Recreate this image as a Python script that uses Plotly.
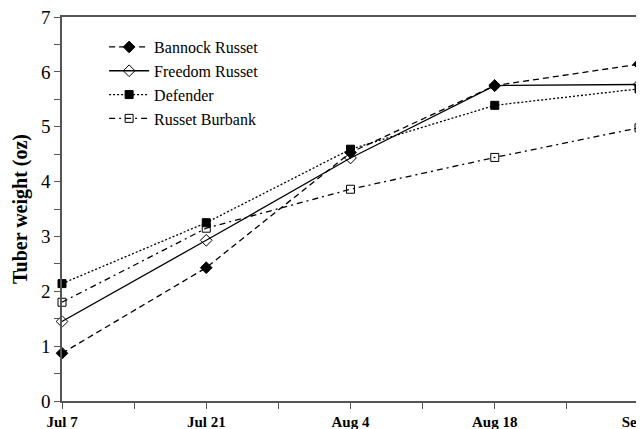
import plotly.graph_objects as go

dates = ["Jul 7", "Jul 21", "Aug 4", "Aug 18", "Sep 1"]
days = [0, 14, 28, 42, 56]

bannock = [0.87, 2.43, 4.53, 5.75, 6.14]
freedom = [1.45, 2.93, 4.43, 5.75, 5.77]
defender = [2.14, 3.25, 4.59, 5.39, 5.69]
burbank = [1.80, 3.15, 3.86, 4.44, 4.98]

series = [
    ("Bannock Russet", bannock, "6px,4px", "diamond", 9),
    ("Freedom Russet", freedom, "solid", "diamond-open", 9),
    ("Defender", defender, "2px,2px", "square", 8),
    ("Russet Burbank", burbank, "6px,4px,2px,4px", "square-open", 8),
]

fig = go.Figure()
for name, vals, dash, sym, sz in series:
    fig.add_trace(go.Scatter(
        x=days, y=vals, name=name, mode="lines+markers",
        line=dict(color="black", width=1.3, dash=dash),
        marker=dict(symbol=sym, size=sz, color="black",
                    line=dict(color="black", width=1)),
        cliponaxis=False,
    ))

font = "Liberation Serif, Times New Roman, serif"
fig.update_layout(
    width=644, height=429,
    margin=dict(l=54, r=13, t=9, b=36),
    paper_bgcolor="white", plot_bgcolor="white",
    font=dict(family=font, color="black", size=16),
    showlegend=True,
    legend=dict(x=0.073, y=0.966, xanchor="left", yanchor="top",
                bgcolor="rgba(0,0,0,0)", font=dict(size=16, family=font),
                tracegroupgap=0, itemwidth=40),
    xaxis=dict(
        range=[0, 56], tickvals=days, ticktext=dates,
        showgrid=False, zeroline=False, automargin=False,
        ticklabeloverflow="allow",
        showline=True, linecolor="#555", linewidth=1.5, mirror=True,
        ticks="outside", ticklen=6, tickcolor="#555",
        tickfont=dict(family=font, size=15, color="black", weight="bold"),
        minor=dict(tickvals=[7, 21, 35, 49], ticks="outside", ticklen=6, tickcolor="#555"),
    ),
    yaxis=dict(
        range=[0, 7], dtick=1, showgrid=False, zeroline=False, automargin=False,
        ticklabeloverflow="allow",
        showline=True, linecolor="#555", linewidth=1.5, mirror=True,
        ticks="outside", ticklen=6, tickcolor="#555",
        tickfont=dict(family=font, size=19, color="black"),
        minor=dict(dtick=0.5, ticks="outside", ticklen=6, tickcolor="#555"),
        title=dict(text="<b>Tuber weight (oz)</b>", font=dict(family=font, size=20), standoff=8),
    ),
)

fig.write_html("out.html")
